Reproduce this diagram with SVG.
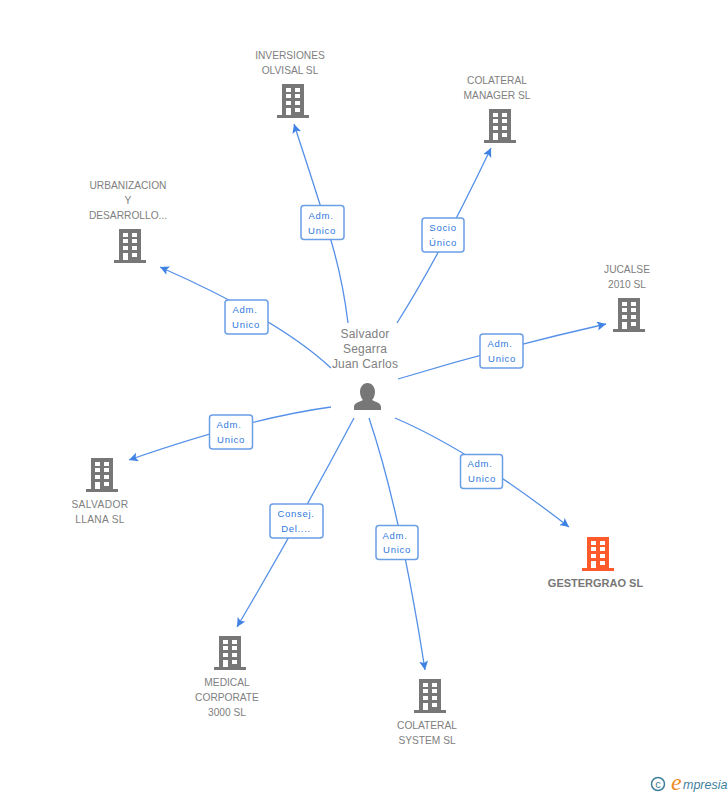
<svg xmlns="http://www.w3.org/2000/svg" width="728" height="795" viewBox="0 0 728 795">
<style>
text{font-family:"Liberation Sans",Arial,sans-serif}
.n{font-size:10.2px;fill:#808080;text-anchor:middle}
.b{font-size:11px;fill:#777;text-anchor:middle;font-weight:bold}
.c{font-size:12px;fill:#808080;text-anchor:middle;letter-spacing:.2px}
.l{font-size:9.500px;fill:#2f78dc;text-anchor:middle;letter-spacing:.7px}
.box{fill:#fff;stroke:#6a9fe6;stroke-width:1.500}
.e{fill:none;stroke:#5590e8;stroke-width:1.300;marker-end:url(#a)}
</style>
<defs>
<marker id="a" markerUnits="userSpaceOnUse" markerWidth="12" markerHeight="12" refX="9" refY="4.500" orient="auto"><path d="M0 0L9 4.500L0 9L2 4.500Z" fill="#3f82e4"/></marker>
<path id="bld" fill-rule="evenodd" d="M5 0H27V31H32V34H0V31H5ZM9 4V8H14V4ZM18 4V8H23V4ZM9 10V14H14V10ZM18 10V14H23V10ZM9 17V21H14V17ZM18 17V21H23V17ZM9 24V31H14V24ZM18 24V28H23V24Z"/>
</defs>
<g id="connectors">
<path class="e" d="M348 323C341 265 330 235 294 124"/>
<path class="e" d="M397 323Q440 255 491 148"/>
<path class="e" d="M331 368Q280 320 160 267"/>
<path class="e" d="M398 379Q500 348 606 324"/>
<path class="e" d="M331 407Q250 418 129 460"/>
<path class="e" d="M395 418Q470 450 569 527"/>
<path class="e" d="M354 418Q300 520 237 627"/>
<path class="e" d="M369 418Q400 510 425 670"/>
</g>
<g id="edge-labels">
<g><rect class="box" x="301" y="205.500" width="43" height="34" rx="3"/><text class="l" x="321" y="219">Adm.</text><text class="l" x="322" y="234">Unico</text></g>
<g><rect class="box" x="422" y="218" width="42" height="34" rx="3"/><text class="l" x="443" y="231">Socio</text><text class="l" x="443" y="246">Único</text></g>
<g><rect class="box" x="225" y="300" width="43" height="34" rx="3"/><text class="l" x="245" y="313">Adm.</text><text class="l" x="246" y="328">Unico</text></g>
<g><rect class="box" x="480" y="334" width="43" height="34" rx="3"/><text class="l" x="500" y="347">Adm.</text><text class="l" x="502" y="362">Unico</text></g>
<g><rect class="box" x="209.500" y="415" width="43" height="34" rx="3"/><text class="l" x="229" y="428">Adm.</text><text class="l" x="231" y="443">Unico</text></g>
<g><rect class="box" x="460.500" y="454.500" width="42" height="34" rx="3"/><text class="l" x="480" y="467">Adm.</text><text class="l" x="482" y="482">Unico</text></g>
<g><rect class="box" x="270" y="504" width="53" height="34" rx="3"/><text class="l" x="296" y="517">Consej.</text><text class="l" x="296" y="532">Del....</text></g>
<g><rect class="box" x="376" y="525.500" width="42" height="34" rx="3"/><text class="l" x="395" y="539">Adm.</text><text class="l" x="397" y="553">Unico</text></g>
</g>
<g id="center"><text class="c" x="365" y="338">Salvador</text><text class="c" x="365" y="353">Segarra</text><text class="c" x="365" y="368">Juan Carlos</text>
<path fill="#777" d="M367.500 383C372 383 375 387 375 392C375 396 373 399 372 400C376 402 381 403 381 407V410H354V407C354 403 359 402 363 400C362 399 360 396 360 392C360 387 363 383 367.500 383Z"/></g>
<g id="inversiones"><use href="#bld" x="277" y="84" fill="#777"/><text class="n" x="290" y="59">INVERSIONES</text><text class="n" x="290" y="74">OLVISAL SL</text></g>
<g id="colateral-manager"><use href="#bld" x="484" y="109" fill="#777"/><text class="n" x="497" y="84">COLATERAL</text><text class="n" x="497" y="99">MANAGER SL</text></g>
<g id="urbanizacion"><use href="#bld" x="114" y="229" fill="#777"/><text class="n" x="128" y="189">URBANIZACION</text><text class="n" x="128" y="204">Y</text><text class="n" x="128" y="219">DESARROLLO...</text></g>
<g id="jucalse"><use href="#bld" x="613" y="298" fill="#777"/><text class="n" x="627" y="273">JUCALSE</text><text class="n" x="627" y="288">2010 SL</text></g>
<g id="salvador-llana"><use href="#bld" x="86" y="458" fill="#777"/><text class="n" x="100" y="508" letter-spacing=".4">SALVADOR</text><text class="n" x="100" y="523" letter-spacing=".3">LLANA SL</text></g>
<g id="gestergrao"><use href="#bld" x="582" y="537" fill="#ff5a2b"/><text class="b" x="595.500" y="587">GESTERGRAO SL</text></g>
<g id="medical"><use href="#bld" x="214" y="636" fill="#777"/><text class="n" x="227" y="686">MEDICAL</text><text class="n" x="227" y="701">CORPORATE</text><text class="n" x="227" y="716">3000 SL</text></g>
<g id="colateral-system"><use href="#bld" x="414" y="679" fill="#777"/><text class="n" x="427" y="729">COLATERAL</text><text class="n" x="427" y="744">SYSTEM SL</text></g>
<g id="logo"><circle cx="658" cy="784" r="6.500" fill="none" stroke="#3f7f9c" stroke-width="1.500"/><text x="658" y="788" font-size="11" fill="#3f7f9c" text-anchor="middle">c</text>
<text x="671" y="790" font-size="24" font-style="italic" fill="#f08a1e" style="font-family:'Liberation Serif',serif">e</text><text x="683" y="789" font-size="12.500" font-style="italic" fill="#3f7f9c">mpresia</text></g>
</svg>
